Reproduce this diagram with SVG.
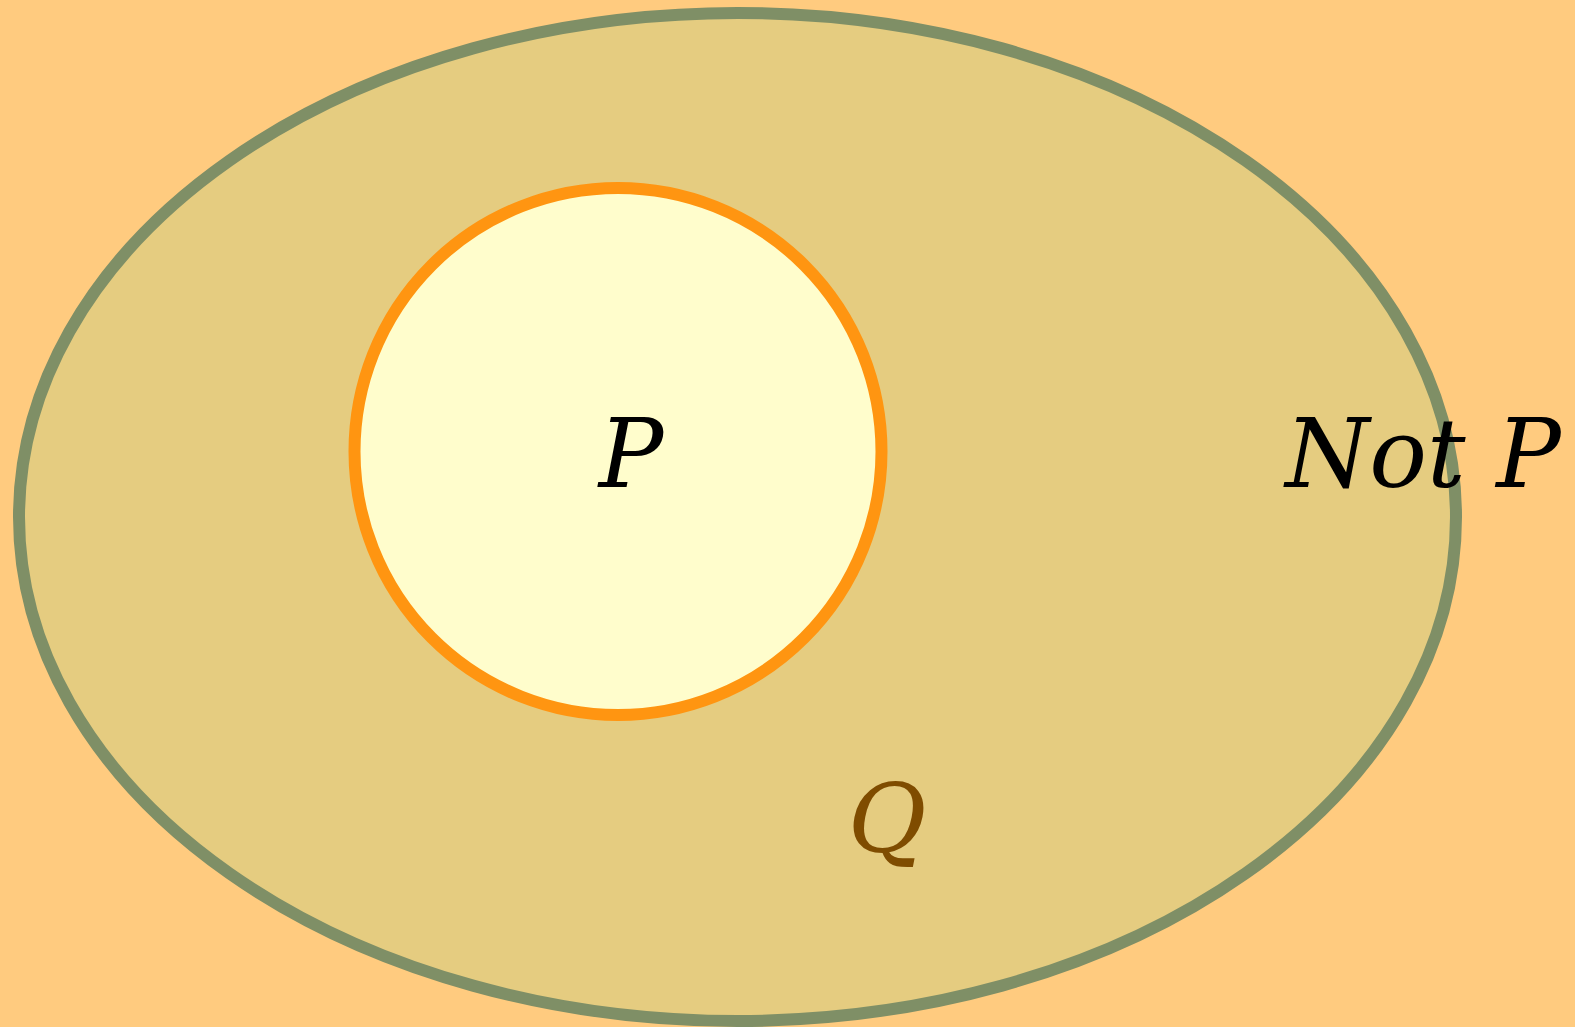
<svg xmlns="http://www.w3.org/2000/svg" width="1575" height="1027" viewBox="0 0 1575 1027">
<style>
.lbl{font-family:"DejaVu Serif",serif;font-style:italic;font-size:96px;text-anchor:middle}
</style>
<rect width="1575" height="1027" fill="#FFCB7F"/>
<g id="Q">
<ellipse cx="737.5" cy="517" rx="718.5" ry="504" fill="#E5CC80" stroke="#7F8F66" stroke-width="12"/>
<text class="lbl" x="887" y="852" fill="#7F4C00">Q</text>
</g>
<g id="P">
<circle cx="618" cy="451.5" r="263.5" fill="#FFFDCC" stroke="#FF9511" stroke-width="12"/>
<text class="lbl" x="631" y="487" fill="#000">P</text>
</g>
<g id="NotP">
<text class="lbl" x="1423" y="487" fill="#000">Not P</text>
</g>
<g id="connectors"/>
</svg>
